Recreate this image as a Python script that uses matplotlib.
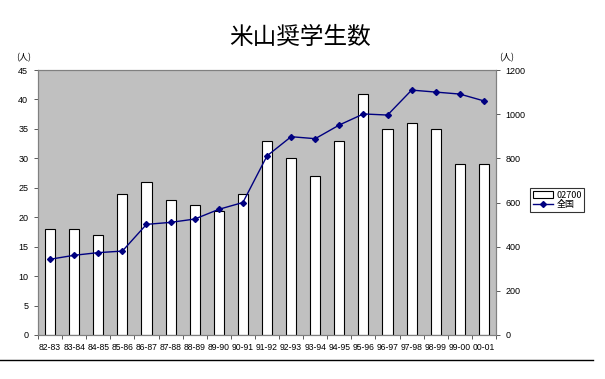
import matplotlib
matplotlib.use("Agg")
import matplotlib.pyplot as plt
import numpy as np

categories = ["82-83", "83-84", "84-85", "85-86", "86-87", "87-88", "88-89", "89-90",
              "90-91", "91-92", "92-93", "93-94", "94-95", "95-96", "96-97", "97-98",
              "98-99", "99-00", "00-01"]
local_values = [18, 18, 17, 24, 26, 23, 22, 21, 24, 33, 30, 27, 33, 41, 35, 36, 35, 29, 29]
national_values = [343, 361, 373, 380, 501, 510, 525, 569, 600, 811, 898, 889, 951,
                   1001, 996, 1109, 1100, 1091, 1060]
left_ticks = [0, 5, 10, 15, 20, 25, 30, 35, 40, 45]
right_ticks = [0, 200, 400, 600, 800, 1000, 1200]
title = "米山奨学生数"
series_names = ["02700", "全国"]
unit_label = "(人)"

plt.rcParams['font.family'] = ['Liberation Sans', 'Noto Sans CJK JP', 'DejaVu Sans']

fig = plt.figure(figsize=(6.05, 3.79), dpi=100)
ax = fig.add_axes([38/605, 44/379, 458/605, 265/379])
ax.set_facecolor("#c0c0c0")
x = np.arange(len(categories))
bars = ax.bar(x, local_values, width=0.42, color="white", edgecolor="black",
              linewidth=0.8, label=series_names[0], zorder=2)
ax.set_xlim(-0.5, len(categories) - 0.5)
ax.set_ylim(0, 45)
ax.set_yticks(left_ticks)
ax.set_yticklabels([str(v) for v in left_ticks], fontsize=6.5)
ax.set_xticks(x)
ax.set_xticklabels(categories, fontsize=6.2)
ax.tick_params(axis='x', length=0, pad=6)
ax.set_xticks(np.arange(len(categories) + 1) - 0.5, minor=True)
ax.tick_params(axis='x', which='minor', length=3, width=0.6, color="#404040")
ax.tick_params(axis='y', length=3, width=0.6, pad=4, color="#404040")
for s in ax.spines.values():
    s.set_color("#808080")
    s.set_linewidth(0.8)

ax2 = ax.twinx()
ax2.plot(x, national_values, color="#000080", marker="D", markersize=3,
         linewidth=1.0, label=series_names[1], zorder=3)
ax2.set_ylim(0, 1200)
ax2.set_yticks(right_ticks)
ax2.set_yticklabels([str(v) for v in right_ticks], fontsize=6.5)
ax2.tick_params(axis='y', length=3, width=0.6, pad=4, color="#404040")
for s in ax2.spines.values():
    s.set_color("#808080")
    s.set_linewidth(0.8)

fig.text(300/605, 1 - 37/379, title, ha="center", va="center", fontsize=17,
         family=['Noto Sans CJK JP', 'DejaVu Sans'])
fig.text(24/605, 1 - 58/379, unit_label, ha="center", va="center", fontsize=6.5,
         family=['Noto Sans CJK JP', 'DejaVu Sans'])
fig.text(507/605, 1 - 58/379, unit_label, ha="center", va="center", fontsize=6.5,
         family=['Noto Sans CJK JP', 'DejaVu Sans'])

handles = [bars, ax2.lines[0]]
leg = fig.legend(handles, series_names, loc="center left",
                 bbox_to_anchor=(530/605, 1 - 200/379),
                 prop={'family': ['Noto Sans CJK JP', 'DejaVu Sans'], 'size': 6.5},
                 frameon=True, fancybox=False, edgecolor="black",
                 handlelength=2.2, handletextpad=0.4, borderpad=0.3,
                 labelspacing=0.1, borderaxespad=0)
leg.get_frame().set_linewidth(0.8)

fig.add_artist(plt.Line2D([0, 593/605], [1 - 360/379, 1 - 360/379],
                          transform=fig.transFigure, color="black", linewidth=1.0))

fig.savefig("out.png", dpi=100)
